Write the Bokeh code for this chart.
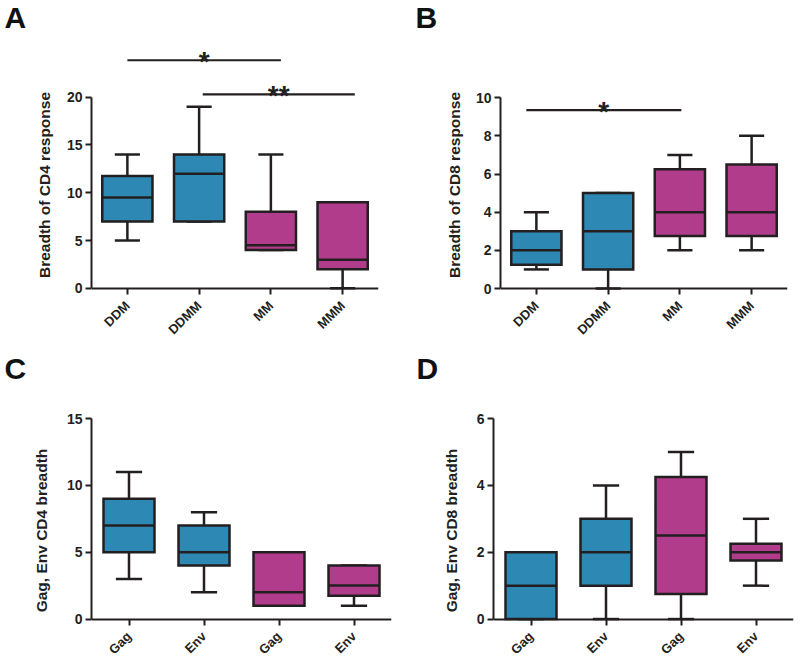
import math
from bokeh.plotting import figure
from bokeh.models import Range1d, FixedTicker, ColumnDataSource, Title
from bokeh.layouts import column, row
from bokeh.embed import file_html
from bokeh.resources import INLINE
from bokeh.core.properties import value

# ---------------- data ----------------
BLUE = "#2E88B4"
MAGENTA = "#B13C8C"
DARK = "#231F20"
group_colors = [BLUE, BLUE, MAGENTA, MAGENTA]

# Panel A: breadth of CD4 response
A_cats = ["DDM", "DDMM", "MM", "MMM"]
A_min = [5, 7, 4, 0]
A_q1 = [7, 7, 4, 2]
A_med = [9.5, 12, 4.5, 3]
A_q3 = [11.75, 14, 8, 9]
A_max = [14, 19, 14, 9]
A_ticks = [0, 5, 10, 15, 20]
A_sig_from = [0.0, 1.05]
A_sig_to = [2.14, 3.17]
A_sig_y = [23.86, 20.3]
A_sig_txt = ["*", "**"]

# Panel B: breadth of CD8 response
B_cats = ["DDM", "DDMM", "MM", "MMM"]
B_min = [1, 0, 2, 2]
B_q1 = [1.25, 1, 2.75, 2.75]
B_med = [2, 3, 4, 4]
B_q3 = [3, 5, 6.25, 6.5]
B_max = [4, 5, 7, 8]
B_ticks = [0, 2, 4, 6, 8, 10]
B_sig_from = [-0.14]
B_sig_to = [2.02]
B_sig_y = [9.35]
B_sig_txt = ["*"]

# Panel C: Gag, Env CD4 breadth
C_cats = ["Gag", "Env", "Gag", "Env"]
C_min = [3, 2, 1, 1]
C_q1 = [5, 4, 1, 1.75]
C_med = [7, 5, 2, 2.5]
C_q3 = [9, 7, 5, 4]
C_max = [11, 8, 5, 4]
C_ticks = [0, 5, 10, 15]

# Panel D: Gag, Env CD8 breadth
D_cats = ["Gag", "Env", "Gag", "Env"]
D_min = [0, 0, 0, 1]
D_q1 = [0, 1, 0.75, 1.75]
D_med = [1, 2, 2.5, 2]
D_q3 = [2, 3, 4.25, 2.25]
D_max = [2, 4, 5, 3]
D_ticks = [0, 2, 4, 6]

FONT = "Liberation Sans"


def panel(letter, letter_off, letter_standoff, cats, mn, q1, md, q3, mx, ticks, ylabel,
          y_start, y_end, w, h, borders, label_standoff, box_w=0.7, cap_w=0.35,
          sig_from=None, sig_to=None, sig_y=None, sig_txt=None):
    bl, br, bt, bb = borders
    p = figure(width=w, height=h, x_range=Range1d(-0.5, len(cats) - 0.5),
               y_range=Range1d(y_start, y_end), output_backend="svg",
               toolbar_location=None, min_border_left=bl, min_border_right=br,
               min_border_top=bt, min_border_bottom=bb)
    p.title = Title(text=letter, align="left", offset=letter_off, standoff=letter_standoff,
                    text_font=FONT, text_font_style="bold", text_font_size="30px",
                    text_color="#111111")
    p.grid.visible = False
    p.outline_line_color = None
    p.background_fill_color = "white"
    p.border_fill_color = "white"

    x = list(range(len(cats)))
    src = ColumnDataSource(dict(
        x=x, mn=mn, q1=q1, md=md, q3=q3, mx=mx, color=group_colors,
        bl=[v - box_w / 2 for v in x], br=[v + box_w / 2 for v in x],
        cl=[v - cap_w / 2 for v in x], cr=[v + cap_w / 2 for v in x]))

    lw = 2.5
    p.segment(x0="x", y0="q3", x1="x", y1="mx", source=src, line_color=DARK, line_width=lw)
    p.segment(x0="x", y0="mn", x1="x", y1="q1", source=src, line_color=DARK, line_width=lw)
    p.segment(x0="cl", y0="mx", x1="cr", y1="mx", source=src, line_color=DARK, line_width=lw)
    p.segment(x0="cl", y0="mn", x1="cr", y1="mn", source=src, line_color=DARK, line_width=lw)
    p.vbar(x="x", width=box_w, bottom="q1", top="q3", source=src,
           fill_color="color", line_color=DARK, line_width=lw, line_join="miter")
    p.segment(x0="bl", y0="md", x1="br", y1="md", source=src, line_color=DARK, line_width=lw)

    if sig_from:
        ssrc = ColumnDataSource(dict(x0=sig_from, x1=sig_to, y=sig_y, t=sig_txt,
                                     xm=[(a + b) / 2 for a, b in zip(sig_from, sig_to)]))
        p.segment(x0="x0", y0="y", x1="x1", y1="y", source=ssrc, line_color=DARK, line_width=2.2)
        p.text(x="xm", y="y", text="t", source=ssrc, text_align="center",
               text_baseline="alphabetic", text_font=value(FONT), text_font_style="bold",
               text_font_size="28px", text_color=DARK, y_offset=1)

    xa = p.xaxis[0]
    xa.fixed_location = 0
    xa.ticker = FixedTicker(ticks=x, minor_ticks=[])
    xa.major_label_overrides = {i: c for i, c in enumerate(cats)}
    xa.major_label_orientation = math.pi / 4
    ya = p.yaxis[0]
    ya.ticker = FixedTicker(ticks=ticks, minor_ticks=[])
    ya.bounds = (ticks[0], ticks[-1])
    ya.axis_label = ylabel
    for ax in (xa, ya):
        ax.axis_line_color = DARK
        ax.axis_line_width = 2
        ax.major_tick_line_color = DARK
        ax.major_tick_line_width = 2
        ax.major_tick_out = 6
        ax.major_tick_in = 0
        ax.minor_tick_line_color = None
        ax.major_label_text_font = FONT
        ax.major_label_text_font_style = "bold"
        ax.major_label_text_color = DARK
    ya.major_label_text_font_size = "14px"
    xa.major_label_text_font_size = "13px"
    ya.major_label_standoff = 3
    xa.major_label_standoff = 9
    ya.axis_label_text_font = FONT
    ya.axis_label_text_font_style = "bold"
    ya.axis_label_text_font_size = "15.5px"
    ya.axis_label_text_color = DARK
    ya.axis_label_standoff = label_standoff
    return p


pA = panel("A", -87, -4, A_cats, A_min, A_q1, A_med, A_q3, A_max, A_ticks,
           "Breadth of CD4 response", -5.25, 26.87, 400, 338, (91, 22, 0, 0), 11,
           sig_from=A_sig_from, sig_to=A_sig_to, sig_y=A_sig_y, sig_txt=A_sig_txt)
pB = panel("B", -85, -4, B_cats, B_min, B_q1, B_med, B_q3, B_max, B_ticks,
           "Breadth of CD8 response", -2.62, 13.47, 400, 338, (100, 13, 0, 0), 10,
           sig_from=B_sig_from, sig_to=B_sig_to, sig_y=B_sig_y, sig_txt=B_sig_txt)
pC = panel("C", -87, 22, C_cats, C_min, C_q1, C_med, C_q3, C_max, C_ticks,
           "Gag, Env CD4 breadth", -3.48, 16.73, 400, 327, (91, 9, 0, 0), 14, box_w=0.68)
pD = panel("D", -77, 22, D_cats, D_min, D_q1, D_med, D_q3, D_max, D_ticks,
           "Gag, Env CD8 breadth", -1.39, 6.69, 400, 327, (93, 7, 0, 0), 14, box_w=0.68)

layout = column(row(pA, pB), row(pC, pD))
open("out.html", "w").write(file_html(layout, INLINE))
